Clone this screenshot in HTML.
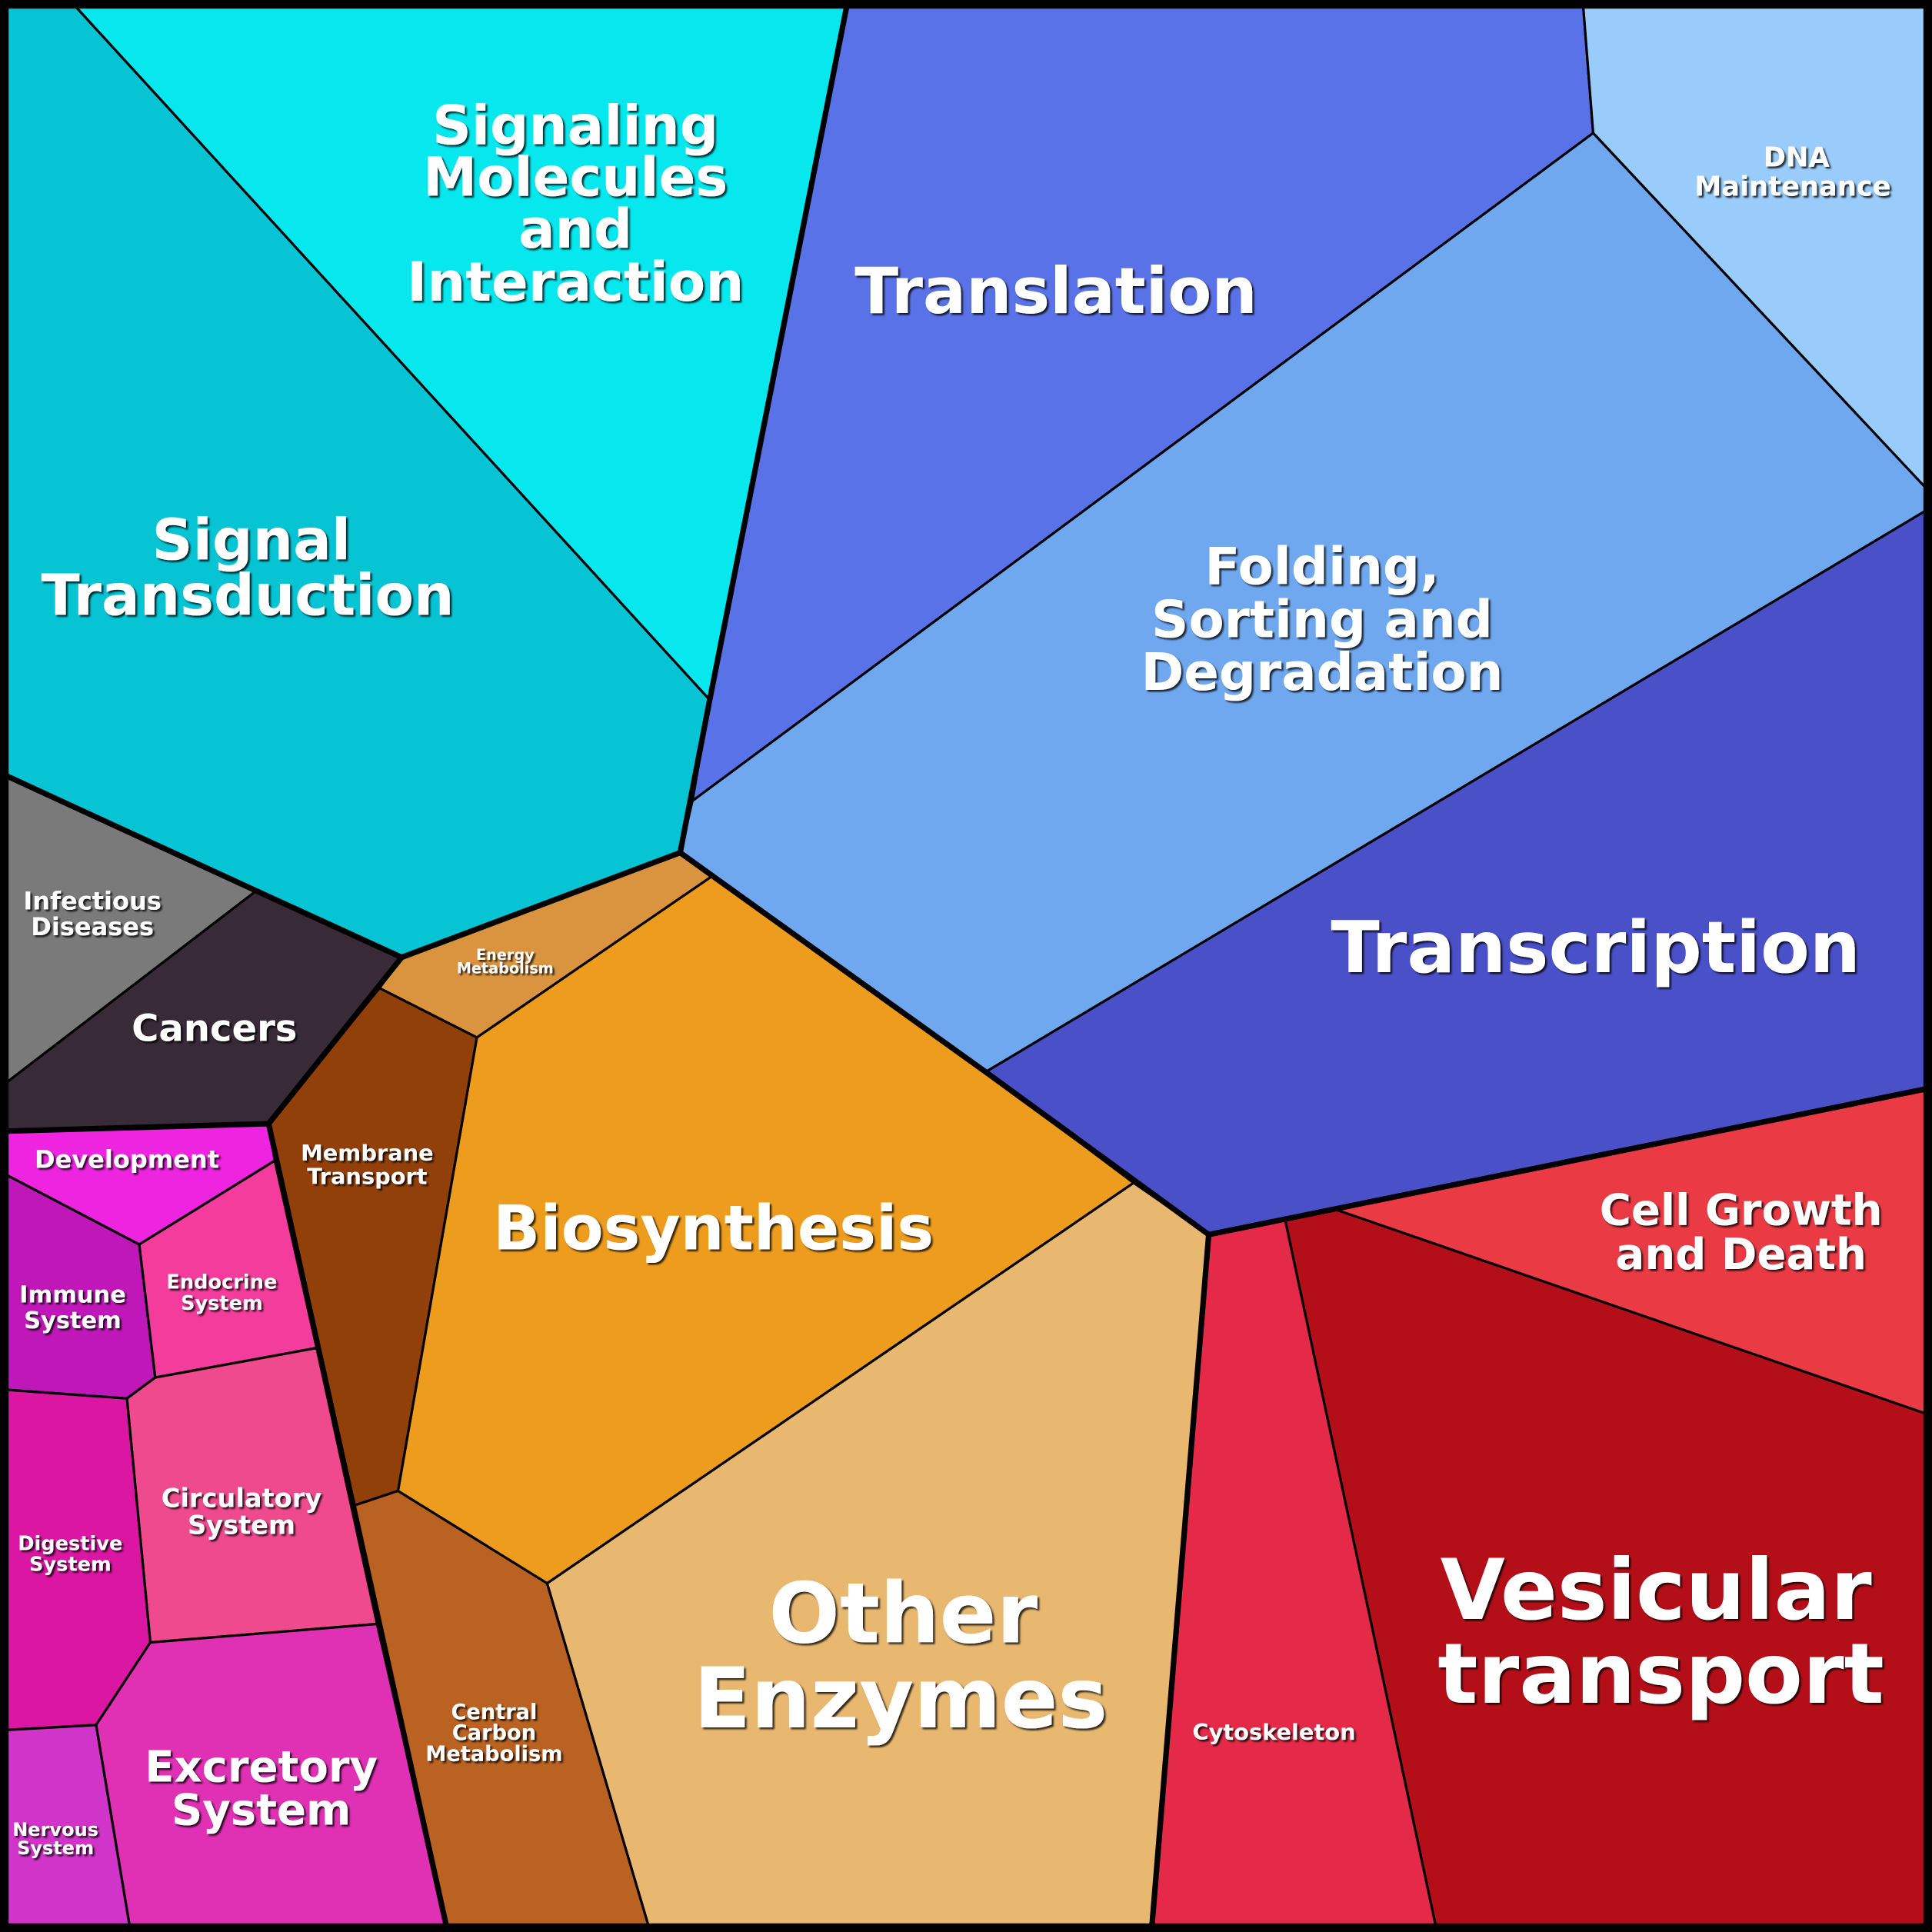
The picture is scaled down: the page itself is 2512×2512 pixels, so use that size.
<!DOCTYPE html>
<html><head><meta charset="utf-8"><style>
html,body{margin:0;padding:0;background:#000}
svg{display:block}
text{font-family:"DejaVu Sans","Liberation Sans",sans-serif;font-weight:bold;fill:#fff;text-anchor:middle}
</style></head><body>
<svg width="2512" height="2512" viewBox="0 0 1568 1568" xmlns="http://www.w3.org/2000/svg">
<defs><filter id="sh" x="-10%" y="-10%" width="120%" height="120%"><feDropShadow dx="1.5" dy="1.5" stdDeviation="0.6" flood-color="#000" flood-opacity="0.8"/></filter></defs>
<rect width="1568" height="1568" fill="#000"/>
<g stroke="#000" stroke-width="2" stroke-linejoin="round">
<polygon fill="#06c4d4" points="6,6 62,6 576,568 552,692 326,777 208,723 6,630"/>
<polygon fill="#06e8ee" points="62,6 687,6 576,568"/>
<polygon fill="#5a72e8" points="687,6 1285,6 1293,108 562,650 576,568"/>
<polygon fill="#99ccfb" points="1285,6 1562,6 1562,395 1293,108"/>
<polygon fill="#70a8f0" points="1293,108 1562,395 1562,415 800,870 578,711 552,692 562,650"/>
<polygon fill="#4a50c8" points="1562,415 1562,884 1085,982 1043,990 981,1002 920,960 800,870"/>
<polygon fill="#ea3a44" points="1562,884 1562,1147 1085,982"/>
<polygon fill="#b40f18" points="1085,982 1562,1147 1562,1562 1165,1562 1043,990"/>
<polygon fill="#e42a48" points="981,1002 1043,990 1165,1562 935,1562"/>
<polygon fill="#e8b870" points="920,960 981,1002 935,1562 526,1562 444,1285"/>
<polygon fill="#ee9c1e" points="578,711 800,870 920,960 444,1285 323,1210 387,842"/>
<polygon fill="#da9440" points="552,692 578,711 387,842 308,802 326,777"/>
<polygon fill="#92400a" points="308,802 387,842 323,1210 287,1222 218,912"/>
<polygon fill="#ba6222" points="287,1222 323,1210 444,1285 526,1562 362,1562"/>
<polygon fill="#7a7a7a" points="6,630 208,723 6,878"/>
<polygon fill="#382a36" points="208,723 326,777 218,912 6,918 6,878"/>
<polygon fill="#ee24e0" points="6,918 218,912 223,942 113,1010 6,954"/>
<polygon fill="#c018b8" points="6,954 113,1010 126,1118 103,1135 6,1128"/>
<polygon fill="#f43c9c" points="113,1010 223,942 257,1094 126,1118"/>
<polygon fill="#f04a8e" points="126,1118 257,1094 306,1318 122,1333 103,1135"/>
<polygon fill="#da16a2" points="6,1128 103,1135 122,1333 78,1400 6,1404"/>
<polygon fill="#e030b4" points="122,1333 306,1318 362,1562 105,1562 78,1400"/>
<polygon fill="#d034c8" points="6,1404 78,1400 105,1562 6,1562"/>
</g>
<g stroke="#000" stroke-width="4.5" fill="none" stroke-linejoin="round">
<polyline points="6,630 208,723 326,777 552,692 576,568 687,6"/>
<polyline points="552,692 800,870 981,1002 1562,884"/>
<polyline points="981,1002 935,1562"/>
<polyline points="326,777 218,912 6,918"/>
<polyline points="218,912 362,1562"/>
<rect x="3" y="3" width="1562" height="1562"/>
</g>
<g filter="url(#sh)">
<text font-size="44"><tspan x="467" y="117">Signaling</tspan><tspan x="467" y="159">Molecules</tspan><tspan x="467" y="201">and</tspan><tspan x="467" y="244">Interaction</tspan></text>
<text font-size="52" x="857" y="254">Translation</text>
<text font-size="22"><tspan x="1458" y="135">DNA</tspan><tspan x="1455" y="159">Maintenance</tspan></text>
<text font-size="46"><tspan x="204" y="454">Signal</tspan><tspan x="201" y="499">Transduction</tspan></text>
<text font-size="42"><tspan x="1073" y="474">Folding,</tspan><tspan x="1073" y="517">Sorting and</tspan><tspan x="1073" y="560">Degradation</tspan></text>
<text font-size="58" x="1295" y="789">Transcription</text>
<text font-size="20"><tspan x="75" y="738">Infectious</tspan><tspan x="75" y="759">Diseases</tspan></text>
<text font-size="30" x="174" y="845">Cancers</text>
<text font-size="12"><tspan x="410" y="779">Energy</tspan><tspan x="410" y="790">Metabolism</tspan></text>
<text font-size="20" x="103" y="948">Development</text>
<text font-size="18"><tspan x="298" y="942">Membrane</tspan><tspan x="298" y="961">Transport</tspan></text>
<text font-size="50" x="579" y="1014">Biosynthesis</text>
<text font-size="35"><tspan x="1413" y="994">Cell Growth</tspan><tspan x="1413" y="1030">and Death</tspan></text>
<text font-size="19"><tspan x="59" y="1057">Immune</tspan><tspan x="59" y="1078">System</tspan></text>
<text font-size="16"><tspan x="180" y="1046">Endocrine</tspan><tspan x="180" y="1063">System</tspan></text>
<text font-size="21"><tspan x="196" y="1223">Circulatory</tspan><tspan x="196" y="1245">System</tspan></text>
<text font-size="16"><tspan x="57" y="1258">Digestive</tspan><tspan x="57" y="1275">System</tspan></text>
<text font-size="68"><tspan x="733" y="1333">Other</tspan><tspan x="731" y="1402">Enzymes</tspan></text>
<text font-size="68"><tspan x="1344" y="1314">Vesicular</tspan><tspan x="1348" y="1382">transport</tspan></text>
<text font-size="17"><tspan x="401" y="1395">Central</tspan><tspan x="401" y="1412">Carbon</tspan><tspan x="401" y="1429">Metabolism</tspan></text>
<text font-size="18" x="1034" y="1412">Cytoskeleton</text>
<text font-size="35"><tspan x="212" y="1446">Excretory</tspan><tspan x="212" y="1481">System</tspan></text>
<text font-size="15"><tspan x="45" y="1490">Nervous</tspan><tspan x="45" y="1505">System</tspan></text>
</g>
</svg>
</body></html>
